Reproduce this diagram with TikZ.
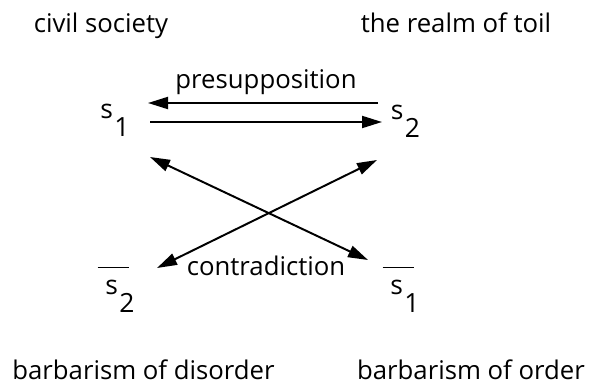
\documentclass[tikz,border=0pt]{standalone}
\usepackage{fontspec}
\setmainfont{Open Sans}
\usetikzlibrary{arrows.meta, positioning, calc}
\definecolor{inkblack}{HTML}{000000}
\newcommand{\sgnsub}[1]{s\kern1pt\raisebox{-0.68em}{#1}}
\newcommand{\sgnneg}[1]{\rlap{\kern-0.3em\rule[1.0em]{1.2em}{0.8pt}}\sgnsub{#1}}

\begin{document}
\begin{tikzpicture}[x=0.025cm, y=-0.025cm,
    word/.style={font=\fontsize{18.3pt}{22pt}\selectfont, text=inkblack, inner sep=0pt, anchor=base},
    sign/.style={font=\fontsize{18.8pt}{23pt}\selectfont, text=inkblack, inner sep=0pt},
    rel/.style={inkblack, line width=1.4pt, -{Triangle[length=0.5cm, width=0.3cm]}},
    relboth/.style={rel, {Triangle[length=0.5cm, width=0.3cm]}-{Triangle[length=0.5cm, width=0.3cm]}}]
    \useasboundingbox (0,0) rectangle (590,387);
    \node[word] (civil) at (101,33) {civil society};
    \node[word] (toil) at (456,33) {the realm of toil};
    \node[sign] (s1) at (115,120) {\sgnsub{1}};
    \node[sign] (s2) at (405.5,121) {\sgnsub{2}};
    \node[sign] (ns2) at (120,290) {\sgnneg{2}};
    \node[sign] (ns1) at (405,290) {\sgnneg{1}};
    \node[word] (disorder) at (143.5,379) {barbarism of disorder};
    \node[word] (order) at (471,379) {barbarism of order};
    \coordinate (s1top) at (148,103);
    \coordinate (s2top) at (378,103);
    \coordinate (s1bot) at (150,122);
    \coordinate (s2bot) at (382,122);
    \coordinate (s1x) at (150,157);
    \coordinate (s2x) at (377,160);
    \coordinate (ns2x) at (157,268);
    \coordinate (ns1x) at (368,260);
    \draw[rel] (s2top) -- (s1top);
    \draw[rel] (s1bot) -- (s2bot);
    \draw[relboth] (s1x) -- (ns1x);
    \draw[relboth] (s2x) -- (ns2x);
    \node[word] (presup) at (266,88) {presupposition};
    \node[word] (contra) at (266,275) {contradiction};
\end{tikzpicture}
\end{document}
